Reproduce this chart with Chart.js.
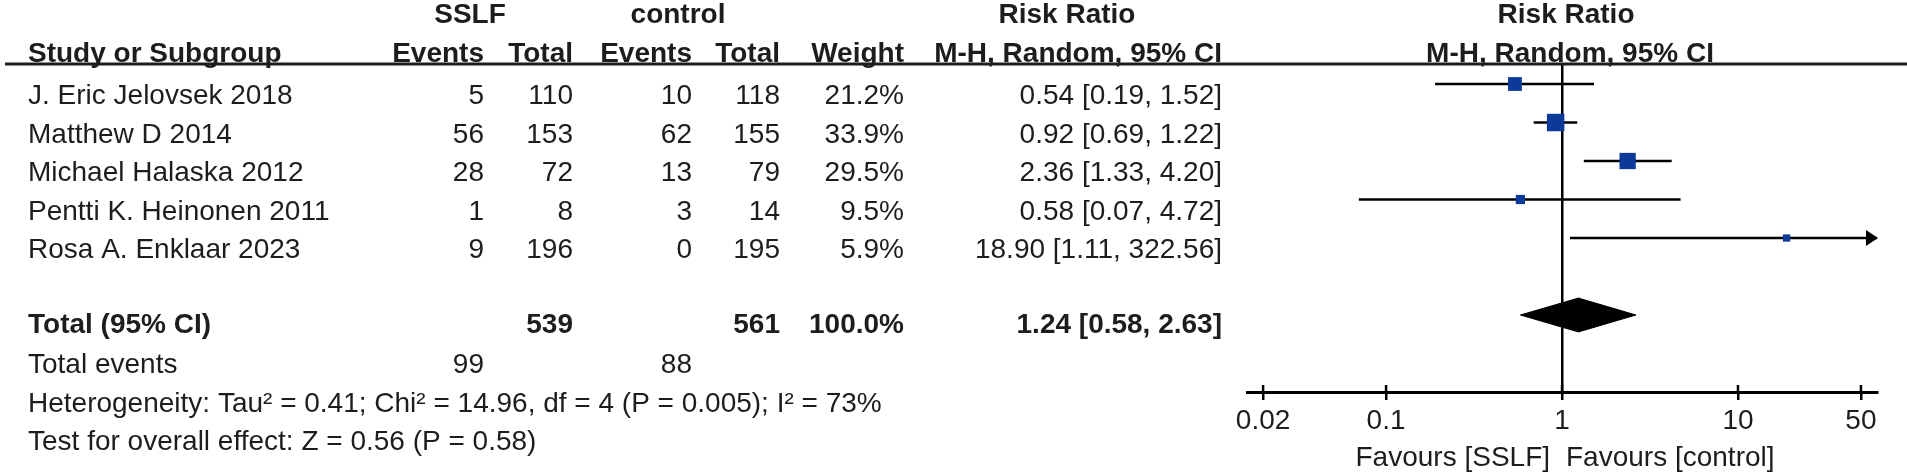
<!DOCTYPE html>
<html>
<head>
<meta charset="utf-8">
<script src="https://cdn.jsdelivr.net/npm/chart.js@4.4.1/dist/chart.umd.min.js"></script>
<style>
  html, body { margin: 0; padding: 0; background: #fff; }
  #wrap { width: 1907px; height: 476px; }
</style>
</head>
<body>
<div id="wrap"><canvas id="forest" width="1907" height="476"></canvas></div>
<script>
// study data
const studies = ["J. Eric Jelovsek 2018", "Matthew D 2014", "Michael Halaska 2012", "Pentti K. Heinonen 2011", "Rosa A. Enklaar 2023"];
const sslfEvents = [5, 56, 28, 1, 9];
const sslfTotal = [110, 153, 72, 8, 196];
const ctrlEvents = [10, 62, 13, 3, 0];
const ctrlTotal = [118, 155, 79, 14, 195];
const weights = [21.2, 33.9, 29.5, 9.5, 5.9];
const rr = [0.54, 0.92, 2.36, 0.58, 18.90];
const ciLow = [0.19, 0.69, 1.33, 0.07, 1.11];
const ciHigh = [1.52, 1.22, 4.20, 4.72, 322.56];

const pooledRR = 1.24;
const pooledLow = 0.58;
const pooledHigh = 2.63;
const totalRow = 7;

const xTicks = [0.02, 0.1, 1, 10, 50];
const heterogeneity = "Heterogeneity: Tau\u00b2 = 0.41; Chi\u00b2 = 14.96, df = 4 (P = 0.005); I\u00b2 = 73%";
const overallTest = "Test for overall effect: Z = 0.56 (P = 0.58)";

const FONT = "'Liberation Sans', Arial, sans-serif";
const INK = "#1d1d1d";
const BLUE = "#0b3a9a";

const sum = a => a.reduce((p, c) => p + c, 0);
const fmtCI = (r, lo, hi) => r.toFixed(2) + " [" + lo.toFixed(2) + ", " + hi.toFixed(2) + "]";
const rowY = k => 104 + 38.6 * k;   // text baselines
const col = { ev1: 484, tot1: 573, ev2: 692, tot2: 780, weight: 904, rr: 1222 };

function txt(ctx, s, x, y, align, bold) {
  ctx.font = (bold ? "bold " : "") + "28px " + FONT;
  ctx.textAlign = align;
  ctx.fillText(s, x, y);
}

const tablePlugin = {
  id: "table",
  afterDatasetsDraw(chart) {
    const ctx = chart.ctx, xs = chart.scales.x, ys = chart.scales.y;
    ctx.save();
    ctx.fillStyle = "#000";
    ciHigh.forEach((hi, i) => {
      if (hi <= xs.max) return;
      const y = ys.getPixelForValue(i + 1), tip = xs.right + 1;
      ctx.beginPath();
      ctx.moveTo(tip, y);
      ctx.lineTo(tip - 12, y - 8);
      ctx.lineTo(tip - 12, y + 8);
      ctx.closePath();
      ctx.fill();
    });
    ctx.restore();
  },
  afterDraw(chart) {
    const ctx = chart.ctx, xs = chart.scales.x;
    const nullX = xs.getPixelForValue(1);
    ctx.save();
    ctx.fillStyle = INK;
    ctx.textBaseline = "alphabetic";

    // header rule
    ctx.fillRect(5, 62.5, 1902, 3);

    // upper half of the tick marks
    ctx.strokeStyle = "#000";
    ctx.lineWidth = 2.5;
    xs.ticks.forEach(t => {
      const x = xs.getPixelForValue(t.value);
      ctx.beginPath();
      ctx.moveTo(x, xs.top - 7);
      ctx.lineTo(x, xs.top);
      ctx.stroke();
    });

    // headers
    txt(ctx, "SSLF", 470, 23, "center", true);
    txt(ctx, "control", 678, 23, "center", true);
    txt(ctx, "Risk Ratio", 1067, 23, "center", true);
    txt(ctx, "Risk Ratio", nullX + 4, 23, "center", true);
    txt(ctx, "Study or Subgroup", 28, 62, "left", true);
    txt(ctx, "Events", col.ev1, 62, "right", true);
    txt(ctx, "Total", col.tot1, 62, "right", true);
    txt(ctx, "Events", col.ev2, 62, "right", true);
    txt(ctx, "Total", col.tot2, 62, "right", true);
    txt(ctx, "Weight", col.weight, 62, "right", true);
    txt(ctx, "M-H, Random, 95% CI", col.rr, 62, "right", true);
    txt(ctx, "M-H, Random, 95% CI", nullX + 8, 62, "center", true);

    // study rows
    studies.forEach((s, i) => {
      const y = rowY(i);
      txt(ctx, s, 28, y, "left");
      txt(ctx, String(sslfEvents[i]), col.ev1, y, "right");
      txt(ctx, String(sslfTotal[i]), col.tot1, y, "right");
      txt(ctx, String(ctrlEvents[i]), col.ev2, y, "right");
      txt(ctx, String(ctrlTotal[i]), col.tot2, y, "right");
      txt(ctx, weights[i].toFixed(1) + "%", col.weight, y, "right");
      txt(ctx, fmtCI(rr[i], ciLow[i], ciHigh[i]), col.rr, y, "right");
    });

    // totals
    let y = rowY(6) - 3;
    txt(ctx, "Total (95% CI)", 28, y, "left", true);
    txt(ctx, String(sum(sslfTotal)), col.tot1, y, "right", true);
    txt(ctx, String(sum(ctrlTotal)), col.tot2, y, "right", true);
    txt(ctx, sum(weights).toFixed(1) + "%", col.weight, y, "right", true);
    txt(ctx, fmtCI(pooledRR, pooledLow, pooledHigh), col.rr, y, "right", true);
    y = rowY(7) - 1;
    txt(ctx, "Total events", 28, y, "left");
    txt(ctx, String(sum(sslfEvents)), col.ev1, y, "right");
    txt(ctx, String(sum(ctrlEvents)), col.ev2, y, "right");
    txt(ctx, heterogeneity, 28, rowY(8) - 1, "left");
    txt(ctx, overallTest, 28, rowY(9) - 1, "left");

    // favours labels
    txt(ctx, "Favours [SSLF]", nullX - 12, 466, "right");
    txt(ctx, "Favours [control]", nullX + 4, 466, "left");
    ctx.restore();
  }
};

const ciSets = studies.map((s, i) => ({
  label: s,
  data: [{ x: ciLow[i], y: i + 1 }, { x: ciHigh[i], y: i + 1 }],
  showLine: true,
  borderColor: "#000",
  borderWidth: 2.5,
  pointRadius: 0,
  order: 2
}));

const diamondHalf = 0.44;
const diamondSet = {
  label: "Total (95% CI)",
  data: [
    { x: pooledLow, y: totalRow },
    { x: pooledRR, y: totalRow - diamondHalf },
    { x: pooledHigh, y: totalRow },
    { x: pooledRR, y: totalRow + diamondHalf },
    { x: pooledLow, y: totalRow }
  ],
  showLine: true,
  fill: "shape",
  backgroundColor: "#000",
  borderColor: "#000",
  borderWidth: 1,
  tension: 0,
  pointRadius: 0,
  order: 1
};

const squareSet = {
  label: "Studies",
  data: rr.map((v, i) => ({ x: v, y: i + 1 })),
  pointStyle: "rect",
  pointRadius: weights.map(w => 2.12 * Math.sqrt(w)),
  backgroundColor: BLUE,
  borderColor: BLUE,
  borderWidth: 0,
  order: 0
};

new Chart(document.getElementById("forest"), {
  type: "scatter",
  data: { datasets: [squareSet, diamondSet, ...ciSets] },
  options: {
    responsive: false,
    devicePixelRatio: 1,
    animation: false,
    layout: { padding: { left: 1247, right: 30, top: 64, bottom: 0 } },
    plugins: { legend: { display: false }, tooltip: { enabled: false } },
    scales: {
      x: {
        type: "logarithmic",
        min: 0.0162,
        max: 61.7,
        bounds: "data",
        afterBuildTicks: scale => { scale.ticks = xTicks.map(v => ({ value: v })); },
        afterFit: scale => { scale.height = 84; },
        border: { display: true, color: "#000", width: 3 },
        grid: {
          drawOnChartArea: true,
          color: c => (c.tick && c.tick.value === 1 ? "#000" : "rgba(0,0,0,0)"),
          lineWidth: 2.5,
          tickColor: "#000",
          tickWidth: 2.5,
          tickLength: 8
        },
        ticks: {
          autoSkip: false,
          maxRotation: 0,
          padding: 4,
          color: INK,
          font: { family: FONT, size: 28 },
          callback: v => String(v)
        }
      },
      y: { type: "linear", display: false, min: 0.48, max: 9, reverse: true }
    }
  },
  plugins: [tablePlugin]
});
</script>
</body>
</html>
